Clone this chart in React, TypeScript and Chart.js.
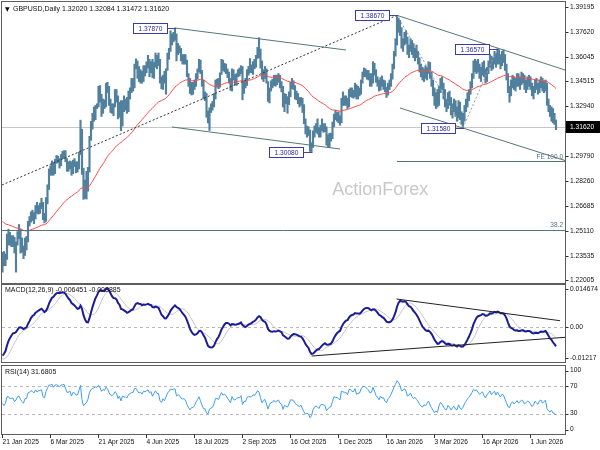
import React, { useEffect, useRef } from "react";
import { Chart, registerables } from "chart.js";

Chart.register(...registerables);

const FONT = "'Liberation Sans', Arial, sans-serif";

// ---------- texts ----------
const symbolTitle = "GBPUSD,Daily 1.32020 1.32084 1.31472 1.31620";
const macdTitle = "MACD(12,26,9) -0.006451 -0.003885";
const rsiTitle = "RSI(14) 31.6805";
const watermark = "ActionForex";

// ---------- axis ticks ----------
const dateTickLabels = [
  "21 Jan 2025", "6 Mar 2025", "21 Apr 2025", "4 Jun 2025", "18 Jul 2025", "2 Sep 2025",
  "16 Oct 2025", "1 Dec 2025", "16 Jan 2026", "3 Mar 2026", "16 Apr 2026", "1 Jun 2026",
];
const dateTickStep = 32;
const priceTicks = [1.39195, 1.3762, 1.36045, 1.34515, 1.3294, 1.31365, 1.2979, 1.2826, 1.26685, 1.2511, 1.23535, 1.22005];
const lastPrice = 1.3162;
const macdTicks = [0.014674, 0, -0.01217];
const macdTickLabels = ["0.014674", "0.00", "-0.01217"];
const rsiTicks = [100, 70, 30, 0];
const rsiLevels = [70, 30];

// ---------- price data (daily, from 21 Jan 2025) ----------
const warmupCloses = [
  1.3125, 1.3130, 1.3120, 1.3150, 1.3125, 1.3090, 1.3080, 1.3040, 1.3110, 1.3125, 1.3210, 1.3210, 1.3180, 1.3290, 1.3320, 1.3350, 1.3375, 1.3340, 1.3400, 1.3380, 1.3375,
  1.3285, 1.3115, 1.3120, 1.3125, 1.3085, 1.3090, 1.3070, 1.3065, 1.3065, 1.3070, 1.3050, 1.3010, 1.3020, 1.3050, 1.3000, 1.2965, 1.2985, 1.2960, 1.2970, 1.2975, 1.3005, 1.2970, 1.2895,
  1.2920, 1.2965, 1.3020, 1.2885, 1.2960, 1.2920, 1.2880, 1.2745, 1.2715, 1.2660, 1.2615, 1.2665, 1.2680, 1.2685, 1.2585, 1.2530, 1.2570, 1.2570, 1.2665, 1.2700, 1.2735,
  1.2660, 1.2680, 1.2705, 1.2745, 1.2745, 1.2765, 1.2770, 1.2760, 1.2660, 1.2620, 1.2685, 1.2710, 1.2580, 1.2530, 1.2570, 1.2530, 1.2520, 1.2520, 1.2575, 1.2555, 1.2515,
  1.2380, 1.2420, 1.2475, 1.2480, 1.2345, 1.2305, 1.2205, 1.2200, 1.2210, 1.2240, 1.2235, 1.2170, 1.2320,
];

const highs = [
  1.2375, 1.2380, 1.2365, 1.2490, 1.2520, 1.2500, 1.2480, 1.2480, 1.2470,
  1.2440, 1.2505, 1.2550, 1.2520, 1.2465, 1.2415, 1.2465, 1.2475, 1.2570, 1.2600, 1.2630, 1.2640, 1.2625, 1.2670, 1.2690, 1.2670, 1.2685, 1.2715, 1.2690, 1.2620,
  1.2720, 1.2800, 1.2900, 1.2920, 1.2950, 1.2940, 1.2960, 1.2985, 1.2980, 1.2965, 1.2990, 1.3010, 1.3015, 1.3015, 1.2965, 1.2945, 1.2950, 1.2945, 1.2955, 1.2965, 1.2945,
  1.2945, 1.3005, 1.3207, 1.3150, 1.2905, 1.2830, 1.2885, 1.2910, 1.3105, 1.3200, 1.3250, 1.3290, 1.3300, 1.3310, 1.3420, 1.3425, 1.3370, 1.3340, 1.3335, 1.3440, 1.3445, 1.3420,
  1.3340, 1.3310, 1.3310, 1.3400, 1.3400, 1.3360, 1.3320, 1.3330, 1.3330, 1.3360, 1.3340, 1.3350, 1.3390, 1.3410, 1.3470, 1.3470, 1.3560, 1.3593, 1.3580, 1.3545, 1.3525, 1.3515,
  1.3550, 1.3550, 1.3575, 1.3615, 1.3590, 1.3575, 1.3590, 1.3570, 1.3630, 1.3615, 1.3630, 1.3590, 1.3480, 1.3490, 1.3515, 1.3530, 1.3630, 1.3660, 1.3770, 1.3750, 1.3760,
  1.3787, 1.3750, 1.3690, 1.3675, 1.3660, 1.3620, 1.3620, 1.3620, 1.3585, 1.3500, 1.3470, 1.3445, 1.3445, 1.3460, 1.3500, 1.3530, 1.3590, 1.3585, 1.3520, 1.3460, 1.3385, 1.3375, 1.3265,
  1.3285, 1.3310, 1.3325, 1.3375, 1.3460, 1.3465, 1.3470, 1.3505, 1.3590, 1.3585, 1.3565, 1.3560, 1.3530, 1.3510, 1.3470, 1.3530, 1.3525, 1.3495, 1.3500, 1.3525, 1.3535,
  1.3550, 1.3545, 1.3455, 1.3470, 1.3525, 1.3545, 1.3595, 1.3555, 1.3575, 1.3590, 1.3615, 1.3665, 1.3726, 1.3655, 1.3580, 1.3525, 1.3545, 1.3530, 1.3450, 1.3410, 1.3455, 1.3465,
  1.3490, 1.3490, 1.3490, 1.3500, 1.3490, 1.3450, 1.3420, 1.3375, 1.3370, 1.3355, 1.3385, 1.3445, 1.3470, 1.3455, 1.3425, 1.3390, 1.3375, 1.3350, 1.3350, 1.3345, 1.3305, 1.3215, 1.3170,
  1.3165, 1.3145, 1.3065, 1.3140, 1.3170, 1.3185, 1.3215, 1.3160, 1.3175, 1.3215, 1.3185, 1.3185, 1.3165, 1.3115, 1.3125, 1.3125, 1.3195, 1.3245, 1.3270, 1.3255,
  1.3260, 1.3235, 1.3345, 1.3385, 1.3360, 1.3360, 1.3345, 1.3400, 1.3410, 1.3410, 1.3395, 1.3440, 1.3430, 1.3420, 1.3410, 1.3460, 1.3510, 1.3535, 1.3530, 1.3520, 1.3520, 1.3500,
  1.3500, 1.3575, 1.3565, 1.3525, 1.3480, 1.3460, 1.3475, 1.3485, 1.3460, 1.3455, 1.3415, 1.3440, 1.3460, 1.3500, 1.3560, 1.3640, 1.3720, 1.3867, 1.3850, 1.3835, 1.3790,
  1.3720, 1.3760, 1.3770, 1.3730, 1.3680, 1.3720, 1.3710, 1.3690, 1.3660, 1.3680, 1.3640, 1.3600, 1.3560, 1.3540, 1.3530, 1.3550, 1.3540, 1.3575, 1.3570, 1.3510,
  1.3460, 1.3410, 1.3380, 1.3400, 1.3420, 1.3470, 1.3480, 1.3440, 1.3400, 1.3340, 1.3380, 1.3390, 1.3350, 1.3310, 1.3340, 1.3330, 1.3290, 1.3330, 1.3320, 1.3260, 1.3250, 1.3300,
  1.3340, 1.3380, 1.3400, 1.3450, 1.3500, 1.3580, 1.3590, 1.3580, 1.3590, 1.3560, 1.3540, 1.3570, 1.3580, 1.3530, 1.3540, 1.3580, 1.3620, 1.3610, 1.3600, 1.3640, 1.3630, 1.3657,
  1.3650, 1.3620, 1.3640, 1.3650, 1.3620, 1.3560, 1.3500, 1.3420, 1.3460, 1.3490, 1.3480, 1.3470, 1.3500, 1.3500, 1.3480, 1.3510, 1.3500, 1.3490, 1.3460, 1.3480, 1.3490,
  1.3480, 1.3440, 1.3420, 1.3460, 1.3470, 1.3440, 1.3460, 1.3480, 1.3470, 1.3450, 1.3460, 1.3440, 1.3340, 1.3300, 1.3290, 1.3280, 1.3250, 1.32084,
];

const lows = [
  1.2250, 1.2290, 1.2290, 1.2330, 1.2420, 1.2420, 1.2410, 1.2410, 1.2370,
  1.2250, 1.2420, 1.2460, 1.2370, 1.2375, 1.2335, 1.2355, 1.2390, 1.2440, 1.2540, 1.2565, 1.2575, 1.2555, 1.2585, 1.2620, 1.2615, 1.2620, 1.2650, 1.2580, 1.2560,
  1.2570, 1.2680, 1.2770, 1.2860, 1.2860, 1.2860, 1.2870, 1.2935, 1.2940, 1.2905, 1.2920, 1.2965, 1.2965, 1.2945, 1.2885, 1.2885, 1.2900, 1.2860, 1.2870, 1.2915, 1.2875,
  1.2880, 1.2900, 1.2990, 1.2865, 1.2708, 1.2715, 1.2710, 1.2760, 1.2880, 1.3080, 1.3150, 1.3200, 1.3210, 1.3280, 1.3290, 1.3320, 1.3230, 1.3250, 1.3280, 1.3290, 1.3380, 1.3300,
  1.3255, 1.3250, 1.3235, 1.3290, 1.3320, 1.3215, 1.3225, 1.3140, 1.3170, 1.3260, 1.3270, 1.3250, 1.3260, 1.3340, 1.3380, 1.3390, 1.3410, 1.3530, 1.3470, 1.3450, 1.3440, 1.3440,
  1.3450, 1.3485, 1.3505, 1.3535, 1.3480, 1.3505, 1.3475, 1.3470, 1.3540, 1.3530, 1.3550, 1.3440, 1.3405, 1.3400, 1.3440, 1.3370, 1.3520, 1.3590, 1.3640, 1.3680, 1.3700,
  1.3710, 1.3580, 1.3620, 1.3630, 1.3580, 1.3560, 1.3560, 1.3560, 1.3480, 1.3420, 1.3375, 1.3365, 1.3370, 1.3400, 1.3420, 1.3465, 1.3510, 1.3500, 1.3420, 1.3340, 1.3330, 1.3225, 1.3190,
  1.3142, 1.3255, 1.3270, 1.3290, 1.3340, 1.3415, 1.3405, 1.3415, 1.3495, 1.3520, 1.3510, 1.3500, 1.3475, 1.3440, 1.3395, 1.3390, 1.3460, 1.3430, 1.3425, 1.3480, 1.3485,
  1.3500, 1.3335, 1.3375, 1.3410, 1.3425, 1.3490, 1.3505, 1.3505, 1.3495, 1.3530, 1.3540, 1.3595, 1.3600, 1.3535, 1.3465, 1.3450, 1.3470, 1.3440, 1.3325, 1.3315, 1.3390, 1.3410,
  1.3425, 1.3420, 1.3430, 1.3445, 1.3410, 1.3385, 1.3290, 1.3260, 1.3310, 1.3250, 1.3305, 1.3355, 1.3405, 1.3400, 1.3340, 1.3335, 1.3310, 1.3290, 1.3300, 1.3255, 1.3185, 1.3120, 1.3100,
  1.3110, 1.3010, 1.3008, 1.3035, 1.3100, 1.3130, 1.3120, 1.3100, 1.3100, 1.3140, 1.3130, 1.3135, 1.3050, 1.3040, 1.3035, 1.3075, 1.3090, 1.3165, 1.3210, 1.3200,
  1.3190, 1.3175, 1.3190, 1.3300, 1.3300, 1.3300, 1.3280, 1.3290, 1.3355, 1.3350, 1.3345, 1.3355, 1.3340, 1.3340, 1.3360, 1.3370, 1.3440, 1.3480, 1.3480, 1.3465, 1.3460, 1.3420,
  1.3420, 1.3440, 1.3490, 1.3445, 1.3420, 1.3390, 1.3395, 1.3420, 1.3400, 1.3385, 1.3350, 1.3365, 1.3400, 1.3420, 1.3465, 1.3530, 1.3610, 1.3680, 1.3760, 1.3740, 1.3660,
  1.3640, 1.3680, 1.3690, 1.3620, 1.3600, 1.3640, 1.3620, 1.3600, 1.3580, 1.3600, 1.3560, 1.3510, 1.3480, 1.3460, 1.3450, 1.3470, 1.3460, 1.3500, 1.3470, 1.3420,
  1.3360, 1.3300, 1.3280, 1.3290, 1.3300, 1.3380, 1.3400, 1.3340, 1.3290, 1.3260, 1.3280, 1.3300, 1.3240, 1.3220, 1.3260, 1.3230, 1.3200, 1.3220, 1.3210, 1.3180, 1.3158, 1.3200,
  1.3260, 1.3290, 1.3330, 1.3370, 1.3410, 1.3470, 1.3510, 1.3500, 1.3510, 1.3470, 1.3450, 1.3490, 1.3480, 1.3440, 1.3450, 1.3500, 1.3540, 1.3520, 1.3530, 1.3560, 1.3540, 1.3560,
  1.3560, 1.3530, 1.3550, 1.3570, 1.3520, 1.3460, 1.3380, 1.3320, 1.3360, 1.3410, 1.3400, 1.3390, 1.3420, 1.3420, 1.3400, 1.3430, 1.3440, 1.3400, 1.3380, 1.3400, 1.3420,
  1.3400, 1.3360, 1.3340, 1.3380, 1.3400, 1.3370, 1.3380, 1.3410, 1.3390, 1.3380, 1.3390, 1.3300, 1.3260, 1.3230, 1.3200, 1.3190, 1.3180, 1.31472,
];

const closes = [
  1.2350, 1.2300, 1.2345, 1.2480, 1.2480, 1.2440, 1.2450, 1.2455, 1.2390,
  1.2420, 1.2480, 1.2495, 1.2440, 1.2400, 1.2370, 1.2450, 1.2450, 1.2570, 1.2580, 1.2620, 1.2610, 1.2590, 1.2660, 1.2630, 1.2660, 1.2670, 1.2680, 1.2590, 1.2575,
  1.2700, 1.2790, 1.2890, 1.2890, 1.2920, 1.2880, 1.2950, 1.2960, 1.2950, 1.2935, 1.2985, 1.2990, 1.3005, 1.2965, 1.2915, 1.2920, 1.2940, 1.2880, 1.2945, 1.2940, 1.2915,
  1.2915, 1.2995, 1.3115, 1.2890, 1.2730, 1.2770, 1.2800, 1.2880, 1.3080, 1.3190, 1.3235, 1.3265, 1.3300, 1.3295, 1.3375, 1.3335, 1.3265, 1.3330, 1.3310, 1.3435, 1.3405, 1.3330,
  1.3280, 1.3270, 1.3300, 1.3375, 1.3350, 1.3240, 1.3300, 1.3190, 1.3320, 1.3300, 1.3300, 1.3280, 1.3365, 1.3390, 1.3420, 1.3420, 1.3535, 1.3545, 1.3505, 1.3470, 1.3490, 1.3460,
  1.3530, 1.3520, 1.3550, 1.3570, 1.3530, 1.3555, 1.3490, 1.3550, 1.3610, 1.3570, 1.3570, 1.3450, 1.3420, 1.3485, 1.3450, 1.3520, 1.3620, 1.3650, 1.3725, 1.3715, 1.3730,
  1.3740, 1.3630, 1.3660, 1.3650, 1.3605, 1.3590, 1.3595, 1.3575, 1.3495, 1.3440, 1.3385, 1.3415, 1.3415, 1.3440, 1.3490, 1.3525, 1.3575, 1.3510, 1.3435, 1.3350, 1.3350, 1.3235, 1.3205,
  1.3275, 1.3290, 1.3300, 1.3350, 1.3450, 1.3450, 1.3430, 1.3500, 1.3570, 1.3530, 1.3555, 1.3530, 1.3490, 1.3455, 1.3410, 1.3525, 1.3475, 1.3460, 1.3490, 1.3505, 1.3505,
  1.3540, 1.3390, 1.3440, 1.3435, 1.3510, 1.3535, 1.3525, 1.3530, 1.3565, 1.3555, 1.3595, 1.3645, 1.3630, 1.3555, 1.3470, 1.3510, 1.3525, 1.3445, 1.3330, 1.3400, 1.3440, 1.3445,
  1.3480, 1.3445, 1.3465, 1.3480, 1.3425, 1.3410, 1.3300, 1.3360, 1.3335, 1.3320, 1.3365, 1.3435, 1.3430, 1.3425, 1.3375, 1.3355, 1.3335, 1.3315, 1.3335, 1.3265, 1.3200, 1.3145, 1.3155,
  1.3135, 1.3025, 1.3045, 1.3120, 1.3155, 1.3170, 1.3150, 1.3120, 1.3165, 1.3175, 1.3165, 1.3155, 1.3060, 1.3080, 1.3100, 1.3105, 1.3170, 1.3240, 1.3230, 1.3230,
  1.3215, 1.3200, 1.3340, 1.3330, 1.3325, 1.3325, 1.3300, 1.3390, 1.3390, 1.3370, 1.3370, 1.3420, 1.3360, 1.3380, 1.3380, 1.3450, 1.3495, 1.3510, 1.3500, 1.3490, 1.3475, 1.3450,
  1.3460, 1.3540, 1.3505, 1.3460, 1.3440, 1.3410, 1.3460, 1.3435, 1.3440, 1.3400, 1.3380, 1.3425, 1.3445, 1.3485, 1.3540, 1.3620, 1.3690, 1.3810, 1.3790, 1.3760, 1.3690,
  1.3700, 1.3740, 1.3710, 1.3640, 1.3660, 1.3700, 1.3650, 1.3620, 1.3640, 1.3610, 1.3580, 1.3530, 1.3500, 1.3480, 1.3510, 1.3490, 1.3520, 1.3550, 1.3490, 1.3440,
  1.3390, 1.3330, 1.3350, 1.3320, 1.3400, 1.3450, 1.3420, 1.3360, 1.3310, 1.3300, 1.3360, 1.3320, 1.3260, 1.3290, 1.3310, 1.3250, 1.3230, 1.3300, 1.3230, 1.3200, 1.3230, 1.3280,
  1.3320, 1.3360, 1.3390, 1.3430, 1.3480, 1.3560, 1.3540, 1.3560, 1.3530, 1.3500, 1.3520, 1.3550, 1.3500, 1.3470, 1.3520, 1.3560, 1.3600, 1.3550, 1.3590, 1.3620, 1.3570, 1.3630,
  1.3590, 1.3560, 1.3610, 1.3600, 1.3540, 1.3480, 1.3400, 1.3380, 1.3440, 1.3470, 1.3430, 1.3450, 1.3480, 1.3440, 1.3460, 1.3480, 1.3470, 1.3420, 1.3440, 1.3460, 1.3450,
  1.3420, 1.3380, 1.3400, 1.3440, 1.3420, 1.3400, 1.3440, 1.3450, 1.3410, 1.3430, 1.3440, 1.3320, 1.3280, 1.3250, 1.3270, 1.3210, 1.3202, 1.3162,
];

// ---------- annotations (bar index, value) ----------
const swingPoints = [
  { i: 115, p: 1.3787 },
  { i: 263, p: 1.3867 },
  { i: 330, p: 1.3657 },
  { i: 307, p: 1.3158 },
  { i: 206, p: 1.3008 },
];
const channelLines = [
  { a: [115, 1.3787], b: [229, 1.36487] },
  { a: [113, 1.31639], b: [225, 1.30253] },
  { a: [263, 1.3867], b: [375, 1.35228] },
  { a: [265, 1.32835], b: [375, 1.29529] },
];
const trendDotted = { a: [-0.333, 1.27987], b: [263, 1.3867] };
const zigzag = [[263, 1.3867], [307, 1.3158], [330, 1.3657]];
const fiboLevels = [
  { label: "FE 100.0", from: 263, p: 1.2948 },
  { label: "38.2", from: -0.333, p: 1.2518 },
];
const macdLines = [
  { a: [262.7, 0.00979], b: [371.7, 0.00223] },
  { a: [206.1, -0.01008], b: [375, -0.00356] },
];

// ---------- indicators ----------
function ema(src: number[], period: number) {
  const k = 2 / (period + 1);
  const out: number[] = [];
  let prev = src[0];
  src.forEach((v, i) => {
    prev = i === 0 ? v : v * k + prev * (1 - k);
    out.push(prev);
  });
  return out;
}
function sma(src: number[], period: number) {
  const out: number[] = [];
  let sum = 0;
  src.forEach((v, i) => {
    sum += v;
    if (i >= period) sum -= src[i - period];
    out.push(sum / Math.min(i + 1, period));
  });
  return out;
}
function rsi(src: number[], period: number) {
  const out: number[] = [50];
  let ag = 0, al = 0;
  for (let i = 1; i < src.length; i++) {
    const d = src[i] - src[i - 1];
    const g = Math.max(d, 0), l = Math.max(-d, 0);
    if (i <= period) {
      ag += g / period; al += l / period;
    } else {
      ag = (ag * (period - 1) + g) / period;
      al = (al * (period - 1) + l) / period;
    }
    out.push(al === 0 ? 100 : 100 - 100 / (1 + ag / al));
  }
  return out;
}

const allCloses = [...warmupCloses, ...closes];
const W = warmupCloses.length;
const ema55 = ema(allCloses, 55).slice(W);
const e12 = ema(allCloses, 12), e26 = ema(allCloses, 26);
const macdAll = e12.map((v, i) => v - e26[i]);
const signalAll = sma(macdAll, 9);
const macdMain = macdAll.slice(W);
const macdSignal = signalAll.slice(W);
const rsi14 = rsi(allCloses, 14).slice(W);

// ---------- drawing helpers ----------
const X_MIN = -0.333, X_MAX = 375;

function seg(ctx: CanvasRenderingContext2D, x1: number, y1: number, x2: number, y2: number, color: string, width = 1, dash: number[] = []) {
  ctx.save();
  ctx.strokeStyle = color;
  ctx.lineWidth = width;
  ctx.setLineDash(dash);
  ctx.beginPath();
  ctx.moveTo(x1, y1);
  ctx.lineTo(x2, y2);
  ctx.stroke();
  ctx.restore();
}
function txt(ctx: CanvasRenderingContext2D, s: string, x: number, y: number, size: number, color: string, align: CanvasTextAlign = "left", family = FONT) {
  ctx.save();
  ctx.font = `${size}px ${family}`;
  ctx.fillStyle = color;
  ctx.textAlign = align;
  ctx.textBaseline = "middle";
  ctx.fillText(s, x, y);
  ctx.restore();
}
function clipArea(chart: any, fn: () => void) {
  const a = chart.chartArea;
  const ctx = chart.ctx;
  ctx.save();
  ctx.beginPath();
  ctx.rect(a.left, a.top, a.right - a.left, a.bottom - a.top);
  ctx.clip();
  fn();
  ctx.restore();
}
function frame(chart: any) {
  const a = chart.chartArea;
  const ctx = chart.ctx;
  ctx.save();
  ctx.strokeStyle = "#5e5e5e";
  ctx.lineWidth = 1;
  ctx.strokeRect(a.left - 0.5, a.top - 0.5, a.right - a.left + 1, a.bottom - a.top + 1);
  ctx.restore();
}
function axisLabel(chart: any, y: number, label: string) {
  const a = chart.chartArea;
  seg(chart.ctx, a.right + 0.5, Math.round(y) + 0.5, a.right + 3.5, Math.round(y) + 0.5, "#333");
  txt(chart.ctx, label, a.right + 5, y, 6.7, "#111");
}

const baseOptions = (padding: any, yMin: number, yMax: number) => ({
  animation: false,
  responsive: false,
  maintainAspectRatio: false,
  devicePixelRatio: 1,
  events: [],
  layout: { padding },
  plugins: { legend: { display: false }, tooltip: { enabled: false } },
  scales: {
    x: { type: "linear", min: X_MIN, max: X_MAX, display: false, offset: false },
    y: { type: "linear", min: yMin, max: yMax, display: false },
  },
});

const pricePlugin = {
  id: "priceDecor",
  beforeDatasetsDraw(chart: any) {
    const ctx = chart.ctx;
    const a = chart.chartArea;
    txt(ctx, watermark, a.left + 0.672 * (a.right - a.left), a.top + 0.67 * (a.bottom - a.top), 18, "#c8c8c8", "center");
    const y = Math.round(chart.scales.y.getPixelForValue(lastPrice)) + 0.5;
    seg(ctx, a.left, y, a.right, y, "#c6c6c6");
  },
  afterDatasetsDraw(chart: any) {
    const ctx = chart.ctx;
    const a = chart.chartArea;
    const X = (i: number) => chart.scales.x.getPixelForValue(i);
    const Y = (v: number) => chart.scales.y.getPixelForValue(v);
    clipArea(chart, () => {
      seg(ctx, X(trendDotted.a[0]), Y(trendDotted.a[1]), X(trendDotted.b[0]), Y(trendDotted.b[1]), "#333", 1, [2, 2]);
      for (let k = 0; k < zigzag.length - 1; k++) {
        seg(ctx, X(zigzag[k][0]), Y(zigzag[k][1]), X(zigzag[k + 1][0]), Y(zigzag[k + 1][1]), "#9a9a9a", 1, [2, 2]);
      }
      channelLines.forEach((l) => seg(ctx, X(l.a[0]), Y(l.a[1]), X(l.b[0]), Y(l.b[1]), "#557777", 1));
      fiboLevels.forEach((f) => {
        const y = Math.round(Y(f.p)) + 0.5;
        seg(ctx, X(f.from), y, a.right, y, "#557777", 1);
      });
    });
    fiboLevels.forEach((f) => txt(ctx, f.label, a.right - 2, Y(f.p) - 4, 6.5, "#4d7585", "right"));
    swingPoints.forEach((s) => {
      const bx = X(s.i);
      const by = Math.round(Y(s.p)) + 0.5;
      const w = 34, h = 10;
      const rx = Math.round(bx - 8) + 0.5;
      seg(ctx, rx, by, bx + 1, by, "#44449a");
      ctx.save();
      ctx.fillStyle = "#ffffff";
      ctx.fillRect(rx - w, by - h / 2, w, h);
      ctx.strokeStyle = "#3a3aa8";
      ctx.lineWidth = 1;
      ctx.strokeRect(rx - w, by - h / 2, w, h);
      ctx.restore();
      txt(ctx, s.p.toFixed(5), rx - w / 2, by + 0.5, 6.6, "#2a2a9c", "center");
    });
    frame(chart);
    priceTicks.forEach((v) => axisLabel(chart, Y(v), v.toFixed(5)));
    const ly = Y(lastPrice);
    ctx.save();
    ctx.fillStyle = "#000";
    ctx.fillRect(a.right + 1, Math.round(ly) - 6, 36, 12);
    ctx.restore();
    txt(ctx, lastPrice.toFixed(5), a.right + 5, ly, 6.7, "#fff");
    txt(ctx, "\u25BC", a.left + 3, a.top + 7, 6, "#000", "left", "'DejaVu Sans', sans-serif");
    txt(ctx, symbolTitle, a.left + 11, a.top + 7, 7, "#111");
  },
};

const macdPlugin = {
  id: "macdDecor",
  beforeDatasetsDraw(chart: any) {
    const a = chart.chartArea;
    const y = Math.round(chart.scales.y.getPixelForValue(0)) + 0.5;
    seg(chart.ctx, a.left, y, a.right, y, "#b8b8b8", 1, [3, 3]);
  },
  afterDatasetsDraw(chart: any) {
    const ctx = chart.ctx;
    const a = chart.chartArea;
    const X = (i: number) => chart.scales.x.getPixelForValue(i);
    const Y = (v: number) => chart.scales.y.getPixelForValue(v);
    clipArea(chart, () => {
      macdLines.forEach((l) => seg(ctx, X(l.a[0]), Y(l.a[1]), X(l.b[0]), Y(l.b[1]), "#222", 1));
    });
    frame(chart);
    macdTicks.forEach((v, k) => {
      let y = Y(v);
      if (k === 0) y += 4;
      if (k === macdTicks.length - 1) y -= 4;
      axisLabel(chart, y, macdTickLabels[k]);
    });
    txt(ctx, macdTitle, a.left + 3, a.top + 5, 7, "#111");
  },
};

const rsiPlugin = {
  id: "rsiDecor",
  beforeDatasetsDraw(chart: any) {
    const a = chart.chartArea;
    rsiLevels.forEach((v) => {
      const y = Math.round(chart.scales.y.getPixelForValue(v)) + 0.5;
      seg(chart.ctx, a.left, y, a.right, y, "#b8b8b8", 1, [3, 3]);
    });
  },
  afterDatasetsDraw(chart: any) {
    const ctx = chart.ctx;
    const a = chart.chartArea;
    const X = (i: number) => chart.scales.x.getPixelForValue(i);
    const Y = (v: number) => chart.scales.y.getPixelForValue(v);
    frame(chart);
    rsiTicks.forEach((v, k) => {
      let y = Y(v);
      if (k === 0) y += 4.5;
      if (k === rsiTicks.length - 1) y -= 4.5;
      axisLabel(chart, y, String(v));
    });
    txt(ctx, rsiTitle, a.left + 3, a.top + 6, 7, "#111");
    dateTickLabels.forEach((lab, k) => {
      const x = Math.round(X(k * dateTickStep)) + 0.5;
      seg(ctx, x, a.bottom + 0.5, x, a.bottom + 4, "#333");
      txt(ctx, lab, x, a.bottom + 8, 6.6, "#111");
    });
  },
};

export default function App() {
  const pRef = useRef<HTMLCanvasElement>(null);
  const mRef = useRef<HTMLCanvasElement>(null);
  const rRef = useRef<HTMLCanvasElement>(null);

  useEffect(() => {
    const charts: Chart[] = [];
    charts.push(
      new Chart(pRef.current as HTMLCanvasElement, {
        type: "bar",
        data: {
          datasets: [
            {
              type: "line",
              data: ema55.map((v, i) => ({ x: i, y: v })),
              borderColor: "#ff4a4a",
              borderWidth: 1,
              pointRadius: 0,
              tension: 0,
              order: 0,
            } as any,
            {
              type: "bar",
              data: highs.map((h, i) => ({ x: i, y: [lows[i], h] })),
              backgroundColor: "#52809e",
              borderWidth: 0,
              barThickness: 1.5,
              order: 1,
            } as any,
          ],
        },
        options: baseOptions({ left: 2, right: 35, top: 2, bottom: 2 }, 1.21815, 1.3951) as any,
        plugins: [pricePlugin],
      })
    );
    charts.push(
      new Chart(mRef.current as HTMLCanvasElement, {
        type: "line",
        data: {
          datasets: [
            {
              data: macdMain.map((v, i) => ({ x: i, y: v })),
              borderColor: "#1c1c96",
              borderWidth: 2,
              pointRadius: 0,
              tension: 0,
              order: 0,
            },
            {
              data: macdSignal.map((v, i) => ({ x: i, y: v })),
              borderColor: "#c4c4c4",
              borderWidth: 1,
              pointRadius: 0,
              tension: 0,
              order: 1,
            },
          ] as any,
        },
        options: baseOptions({ left: 2, right: 35, top: 3, bottom: 20 }, -0.01217, 0.014674) as any,
        plugins: [macdPlugin],
      })
    );
    charts.push(
      new Chart(rRef.current as HTMLCanvasElement, {
        type: "line",
        data: {
          datasets: [
            {
              data: rsi14.map((v, i) => ({ x: i, y: v })),
              borderColor: "#3d9cf5",
              borderWidth: 1,
              pointRadius: 0,
              tension: 0,
            },
          ] as any,
        },
        options: baseOptions({ left: 2, right: 35, top: 4, bottom: 16 }, 0, 100) as any,
        plugins: [rsiPlugin],
      })
    );
    return () => charts.forEach((c) => c.destroy());
  }, []);

  const cv = (top: number, h: number): React.CSSProperties => ({ position: "absolute", left: 0, top, width: 600, height: h });
  return (
    <div style={{ position: "absolute", left: 0, top: 0, width: 600, height: 450, background: "#ffffff", overflow: "hidden" }}>
      <canvas ref={pRef} width={600} height={285} style={cv(0, 285)} />
      <canvas ref={mRef} width={600} height={100} style={cv(282, 100)} />
      <canvas ref={rRef} width={600} height={88} style={cv(362, 88)} />
    </div>
  );
}
